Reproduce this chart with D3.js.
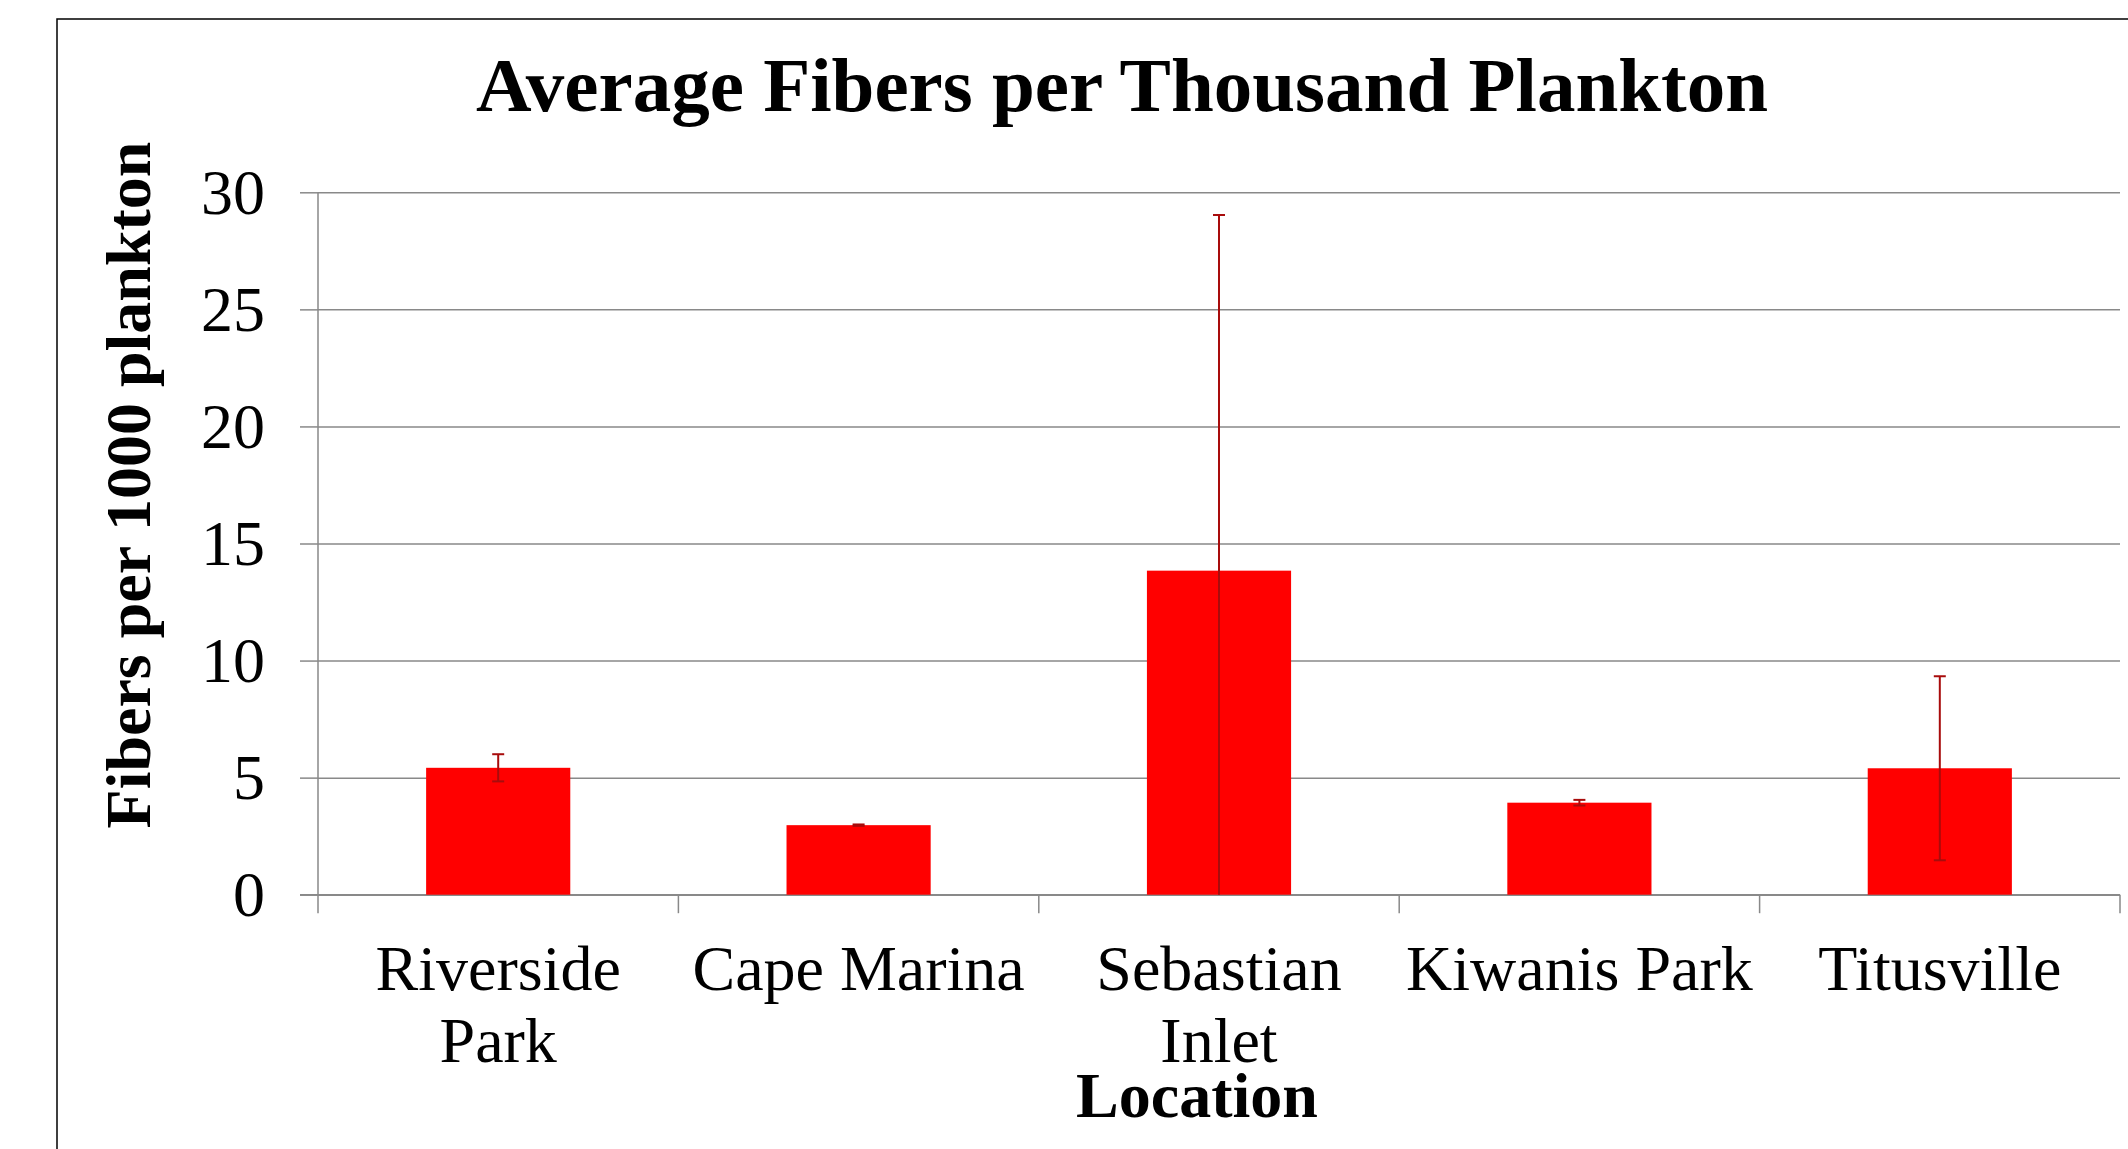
<!DOCTYPE html>
<html>
<head>
<meta charset="utf-8">
<script src="https://cdn.jsdelivr.net/npm/d3@7"></script>
<style>
  html, body { margin: 0; padding: 0; background: #fff; overflow: hidden; }
  svg { display: block; }
  text { font-family: "Liberation Serif", "Times New Roman", serif; fill: #000; }
</style>
</head>
<body>
<svg id="chart" width="2128" height="1149"></svg>
<script>
// ---- data ----
const categories = ["Riverside Park", "Cape Marina", "Sebastian Inlet", "Kiwanis Park", "Titusville"];
const means = [5.42, 2.97, 13.84, 3.93, 5.40];
const errors = [0.58, 0.03, 15.19, 0.12, 3.93];
const yTicks = [0, 5, 10, 15, 20, 25, 30];
const chartTitle = "Average Fibers per Thousand Plankton";
const xTitle = "Location";
const yTitle = "Fibers per 1000 plankton";

// ---- layout ----
const svg = d3.select("#chart");
const plot = { left: 318, right: 2120, top: 192.3, bottom: 894.7 };
const gridColor = "#898989";

// outer chart border (cropped by the picture edge)
svg.append("rect")
  .attr("x", 57).attr("y", 19)
  .attr("width", 2200).attr("height", 1300)
  .attr("fill", "none").attr("stroke", "#000").attr("stroke-width", 1.5);

const x = d3.scaleBand()
  .domain(categories)
  .range([plot.left, plot.right])
  .paddingInner(0.6)
  .paddingOuter(0.3);

const y = d3.scaleLinear()
  .domain([0, 30])
  .range([plot.bottom, plot.top]);

// gridlines
svg.append("g")
  .attr("transform", `translate(${plot.left},0)`)
  .call(d3.axisLeft(y).tickValues(yTicks).tickSize(-(plot.right - plot.left)).tickFormat(""))
  .call(g => g.select(".domain").remove())
  .call(g => g.selectAll("line").attr("stroke", gridColor).attr("stroke-width", 1.5));

// y axis with outside ticks and labels
const yAxis = svg.append("g")
  .attr("transform", `translate(${plot.left},0)`)
  .call(d3.axisLeft(y).tickValues(yTicks).tickSize(18).tickSizeOuter(0).tickPadding(35))
  .call(g => g.select(".domain").remove())
  .call(g => g.selectAll("line").attr("stroke", gridColor).attr("stroke-width", 1.5));
yAxis.selectAll("text")
  .attr("font-size", 64)
  .attr("font-family", "'Liberation Serif', 'Times New Roman', serif")
  .attr("fill", "#000")
  .attr("dy", "0.33em");

// y axis line (extends below zero like the category ticks)
svg.append("line")
  .attr("x1", plot.left).attr("x2", plot.left)
  .attr("y1", y(30)).attr("y2", y(0) + 18.5)
  .attr("stroke", gridColor).attr("stroke-width", 1.5);

// x axis line
svg.append("line")
  .attr("x1", plot.left - 18).attr("x2", plot.right)
  .attr("y1", y(0)).attr("y2", y(0))
  .attr("stroke", gridColor).attr("stroke-width", 1.5);

// category boundary ticks
const gap = x.step() - x.bandwidth();
const boundaries = categories.map(c => x(c) - gap / 2).concat([plot.right]);
svg.append("g").selectAll("line")
  .data(boundaries.slice(1))
  .join("line")
  .attr("x1", d => d).attr("x2", d => d)
  .attr("y1", y(0)).attr("y2", y(0) + 18.5)
  .attr("stroke", gridColor).attr("stroke-width", 1.5);

// bars
svg.append("g").selectAll("rect")
  .data(categories)
  .join("rect")
  .attr("x", c => x(c))
  .attr("width", x.bandwidth())
  .attr("y", (c, i) => y(means[i]))
  .attr("height", (c, i) => y(0) - y(means[i]))
  .attr("fill", "#ff0000");

// error bars
const errColor = "#a80c0c";
const capHalf = 6;
const eg = svg.append("g");
categories.forEach((c, i) => {
  const cx = x(c) + x.bandwidth() / 2;
  const hi = means[i] + errors[i];
  const lowRaw = means[i] - errors[i];
  const lo = Math.max(0, lowRaw);
  eg.append("line")
    .attr("x1", cx).attr("x2", cx)
    .attr("y1", y(hi)).attr("y2", y(lo))
    .attr("stroke", errColor).attr("stroke-width", 2);
  eg.append("line")
    .attr("x1", cx - capHalf).attr("x2", cx + capHalf)
    .attr("y1", y(hi)).attr("y2", y(hi))
    .attr("stroke", errColor).attr("stroke-width", 2);
  if (lowRaw >= 0) {
    eg.append("line")
      .attr("x1", cx - capHalf).attr("x2", cx + capHalf)
      .attr("y1", y(lo)).attr("y2", y(lo))
      .attr("stroke", errColor).attr("stroke-width", 2);
  }
});

// category labels with wrapping
const catG = svg.append("g");
categories.forEach(c => {
  const cx = x(c) + x.bandwidth() / 2;
  const t = catG.append("text")
    .attr("x", cx).attr("y", 990)
    .attr("text-anchor", "middle")
    .attr("font-size", 64)
    .text(c);
  if (t.node().getComputedTextLength() > x.step() * 0.98) {
    const words = c.split(" ");
    t.text(null);
    words.forEach((w, k) => {
      t.append("tspan").attr("x", cx).attr("dy", k === 0 ? 0 : 72).text(w);
    });
  }
});

// titles
svg.append("text")
  .attr("x", 1122).attr("y", 110.5)
  .attr("text-anchor", "middle")
  .attr("font-size", 77)
  .attr("font-weight", "bold")
  .text(chartTitle);

svg.append("text")
  .attr("x", 1197).attr("y", 1117)
  .attr("text-anchor", "middle")
  .attr("font-size", 64)
  .attr("font-weight", "bold")
  .text(xTitle);

svg.append("text")
  .attr("transform", "translate(150,485) rotate(-90)")
  .attr("text-anchor", "middle")
  .attr("font-size", 64)
  .attr("font-weight", "bold")
  .text(yTitle);
</script>
</body>
</html>
